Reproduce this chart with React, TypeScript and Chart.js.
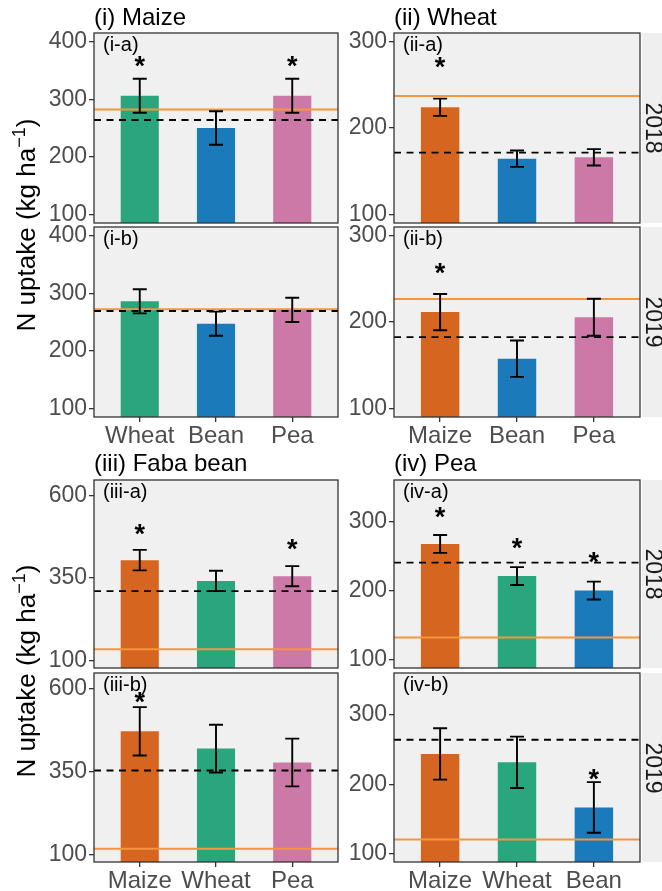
import React, { useEffect, useRef } from "react";
import { Chart, registerables } from "chart.js";

Chart.register(...registerables);

const FONT = '"Liberation Sans", Arial, Helvetica, sans-serif';

// ---------------- data ----------------
// (i) Maize: neighbour crops
const maizeCrops = ["Wheat", "Bean", "Pea"];
const maize2018Mean = [306, 250, 306];
const maize2018Err = [29.5, 29, 29.5];
const maize2018Star: (number | null)[] = [366, null, 366];
const maize2018Ref = 282;
const maize2018Avg = 264;
const maize2019Mean = [286, 247, 271];
const maize2019Err = [21, 21, 21];
const maize2019Star: (number | null)[] = [null, null, null];
const maize2019Ref = 272;
const maize2019Avg = 269;
const maizeTicks = [100, 200, 300, 400];
const maizeRange = [85, 415];

// (ii) Wheat
const wheatCrops = ["Maize", "Bean", "Pea"];
const wheat2018Mean = [224, 164.5, 166];
const wheat2018Err = [10, 9.5, 9.5];
const wheat2018Star: (number | null)[] = [276, null, null];
const wheat2018Ref = 237;
const wheat2018Avg = 171.5;
const wheat2019Mean = [211.5, 157.5, 205.5];
const wheat2019Err = [21, 21, 21.5];
const wheat2019Star: (number | null)[] = [262, null, null];
const wheat2019Ref = 226.5;
const wheat2019Avg = 182.5;
const wheatTicks = [100, 200, 300];
const wheatRange = [90, 310];

// (iii) Faba bean
const fabaCrops = ["Maize", "Wheat", "Pea"];
const faba2018Mean = [404, 341, 355.5];
const faba2018Err = [31, 31, 30.5];
const faba2018Star: (number | null)[] = [497, null, 450];
const faba2018Ref = 134;
const faba2018Avg = 310;
const faba2019Mean = [471, 419, 377];
const faba2019Err = [73, 72, 72];
const faba2019Star: (number | null)[] = [573, null, null];
const faba2019Ref = 117;
const faba2019Avg = 353;
const fabaTicks = [100, 350, 600];
const fabaRange = [77, 647];

// (iv) Pea
const peaCrops = ["Maize", "Wheat", "Bean"];
const pea2018Mean = [268, 221.5, 200.5];
const pea2018Err = [13, 13, 13];
const pea2018Star: (number | null)[] = [314, 268, 248];
const pea2018Ref = 132.5;
const pea2018Avg = 241;
const pea2019Mean = [244, 232, 167];
const pea2019Err = [37, 37, 36.5];
const pea2019Star: (number | null)[] = [null, null, 214];
const pea2019Ref = 121;
const pea2019Avg = 264.5;
const peaTicks = [100, 200, 300];
const peaRange = [88.5, 360.5];

const groupTitles = ["(i) Maize", "(ii) Wheat", "(iii) Faba bean", "(iv) Pea"];
const yearLabels = ["2018", "2019"];

const CROP_COLORS: Record<string, string> = {
  Maize: "#D6661F",
  Wheat: "#2AA67F",
  Bean: "#1B7AB9",
  Pea: "#CC79A7",
};
const REF_COLOR = "#F5953F";

// ---------------- layout ----------------
const COLS = [
  { left: 94, right: 338 },
  { left: 394, right: 640 },
];
const ROWS = [
  { top: 33, bottom: 223 },
  { top: 227, bottom: 417 },
  { top: 480, bottom: 668 },
  { top: 673, bottom: 862 },
];
const AXIS_W = 60;
const PAD_L = 2;
const PAD_R = 4;
const PAD_T = 16;
const PAD_B = 16;
const XAXIS_H = 34;

type PanelSpec = {
  crops: string[];
  mean: number[];
  err: number[];
  stars: (number | null)[];
  refLine: number;
  avgLine: number;
  ticks: number[];
  range: number[];
  tag: string;
  col: number;
  row: number;
  showX: boolean;
};

const panels: PanelSpec[] = [
  { crops: maizeCrops, mean: maize2018Mean, err: maize2018Err, stars: maize2018Star, refLine: maize2018Ref, avgLine: maize2018Avg, ticks: maizeTicks, range: maizeRange, tag: "(i-a)", col: 0, row: 0, showX: false },
  { crops: maizeCrops, mean: maize2019Mean, err: maize2019Err, stars: maize2019Star, refLine: maize2019Ref, avgLine: maize2019Avg, ticks: maizeTicks, range: maizeRange, tag: "(i-b)", col: 0, row: 1, showX: true },
  { crops: wheatCrops, mean: wheat2018Mean, err: wheat2018Err, stars: wheat2018Star, refLine: wheat2018Ref, avgLine: wheat2018Avg, ticks: wheatTicks, range: wheatRange, tag: "(ii-a)", col: 1, row: 0, showX: false },
  { crops: wheatCrops, mean: wheat2019Mean, err: wheat2019Err, stars: wheat2019Star, refLine: wheat2019Ref, avgLine: wheat2019Avg, ticks: wheatTicks, range: wheatRange, tag: "(ii-b)", col: 1, row: 1, showX: true },
  { crops: fabaCrops, mean: faba2018Mean, err: faba2018Err, stars: faba2018Star, refLine: faba2018Ref, avgLine: faba2018Avg, ticks: fabaTicks, range: fabaRange, tag: "(iii-a)", col: 0, row: 2, showX: false },
  { crops: fabaCrops, mean: faba2019Mean, err: faba2019Err, stars: faba2019Star, refLine: faba2019Ref, avgLine: faba2019Avg, ticks: fabaTicks, range: fabaRange, tag: "(iii-b)", col: 0, row: 3, showX: true },
  { crops: peaCrops, mean: pea2018Mean, err: pea2018Err, stars: pea2018Star, refLine: pea2018Ref, avgLine: pea2018Avg, ticks: peaTicks, range: peaRange, tag: "(iv-a)", col: 1, row: 2, showX: false },
  { crops: peaCrops, mean: pea2019Mean, err: pea2019Err, stars: pea2019Star, refLine: pea2019Ref, avgLine: pea2019Avg, ticks: peaTicks, range: peaRange, tag: "(iv-b)", col: 1, row: 3, showX: true },
];

function PanelChart({ p }: { p: PanelSpec }) {
  const ref = useRef<HTMLCanvasElement | null>(null);
  const col = COLS[p.col];
  const row = ROWS[p.row];
  const plotW = col.right - col.left;
  const plotH = row.bottom - row.top;
  const cw = PAD_L + AXIS_W + plotW + PAD_R;
  const ch = PAD_T + plotH + (p.showX ? XAXIS_H : 0) + PAD_B;
  const left = col.left - AXIS_W - PAD_L;
  const top = row.top - PAD_T;

  useEffect(() => {
    const canvas = ref.current;
    if (!canvas) return;
    const decor = {
      id: "decor",
      beforeDraw(chart: any) {
        const { ctx, chartArea: a } = chart;
        ctx.save();
        ctx.fillStyle = "#F0F0F0";
        ctx.fillRect(a.left, a.top, a.right - a.left, a.bottom - a.top);
        ctx.restore();
      },
      afterDatasetsDraw(chart: any) {
        const { ctx, chartArea: a } = chart;
        const xs = chart.scales.x;
        const ys = chart.scales.y;
        ctx.save();
        ctx.beginPath();
        ctx.rect(a.left, a.top, a.right - a.left, a.bottom - a.top);
        ctx.clip();
        // reference (orange) line
        const yr = ys.getPixelForValue(p.refLine);
        ctx.strokeStyle = REF_COLOR;
        ctx.lineWidth = 2;
        ctx.beginPath();
        ctx.moveTo(a.left, yr);
        ctx.lineTo(a.right, yr);
        ctx.stroke();
        // dashed mean line
        const yd = ys.getPixelForValue(p.avgLine);
        ctx.strokeStyle = "#000";
        ctx.lineWidth = 1.9;
        ctx.setLineDash([7, 5.5]);
        ctx.beginPath();
        ctx.moveTo(a.left, yd);
        ctx.lineTo(a.right, yd);
        ctx.stroke();
        ctx.setLineDash([]);
        // error bars
        ctx.lineWidth = 1.9;
        ctx.strokeStyle = "#000";
        p.mean.forEach((m, i) => {
          const x = xs.getPixelForValue(i + 1);
          const y1 = ys.getPixelForValue(m + p.err[i]);
          const y2 = ys.getPixelForValue(m - p.err[i]);
          ctx.beginPath();
          ctx.moveTo(x, y1);
          ctx.lineTo(x, y2);
          ctx.moveTo(x - 7, y1);
          ctx.lineTo(x + 7, y1);
          ctx.moveTo(x - 7, y2);
          ctx.lineTo(x + 7, y2);
          ctx.stroke();
        });
        // stars
        ctx.fillStyle = "#000";
        ctx.font = `bold 27px ${FONT}`;
        ctx.textAlign = "center";
        ctx.textBaseline = "alphabetic";
        const mt = ctx.measureText("*");
        const off = (mt.actualBoundingBoxAscent - mt.actualBoundingBoxDescent) / 2;
        p.stars.forEach((s, i) => {
          if (s == null) return;
          ctx.fillText("*", xs.getPixelForValue(i + 1), ys.getPixelForValue(s) + off);
        });
        ctx.restore();
        // tag
        ctx.save();
        ctx.fillStyle = "#000";
        ctx.font = `20px ${FONT}`;
        ctx.textAlign = "left";
        ctx.textBaseline = "middle";
        ctx.fillText(p.tag, a.left + 9, a.top + 12);
        // border
        ctx.strokeStyle = "#333";
        ctx.lineWidth = 1.3;
        ctx.strokeRect(a.left, a.top, a.right - a.left, a.bottom - a.top);
        ctx.restore();
      },
    };
    const gridOpts = {
      display: true,
      drawOnChartArea: false,
      drawTicks: true,
      tickLength: 5,
      color: "#333",
      lineWidth: 1.3,
      offset: false,
    };
    const chart = new Chart(canvas, {
      type: "bar",
      data: {
        datasets: [
          {
            data: p.mean.map((v, i) => ({ x: i + 1, y: v })) as any,
            backgroundColor: p.crops.map((c) => CROP_COLORS[c]),
            borderWidth: 0,
            barPercentage: 0.5,
            categoryPercentage: 1,
          },
        ],
      },
      options: {
        responsive: false,
        animation: false,
        devicePixelRatio: 1,
        layout: { padding: { left: PAD_L, right: PAD_R, top: PAD_T, bottom: PAD_B } },
        plugins: { legend: { display: false }, tooltip: { enabled: false } },
        scales: {
          x: {
            type: "linear",
            min: 0.4,
            max: 3.6,
            offset: false,
            display: p.showX,
            afterBuildTicks: (s: any) => {
              s.ticks = p.crops.map((_, i) => ({ value: i + 1 }));
            },
            afterFit: (s: any) => {
              s.height = p.showX ? XAXIS_H : 0;
            },
            grid: gridOpts,
            border: { display: false },
            ticks: {
              autoSkip: false,
              maxRotation: 0,
              padding: 0,
              color: "#4D4D4D",
              font: { family: FONT, size: 24 },
              callback: (v: any) => p.crops[Math.round(Number(v)) - 1] ?? "",
            },
          },
          y: {
            type: "linear",
            min: p.range[0],
            max: p.range[1],
            afterBuildTicks: (s: any) => {
              s.ticks = p.ticks.map((v) => ({ value: v }));
            },
            afterFit: (s: any) => {
              s.width = AXIS_W;
            },
            grid: gridOpts,
            border: { display: false },
            ticks: {
              padding: 2,
              color: "#4D4D4D",
              font: { family: FONT, size: 23 },
              callback: (v: any) => String(v),
            },
          },
        } as any,
      },
      plugins: [decor],
    });
    return () => chart.destroy();
  }, []);

  return (
    <canvas
      ref={ref}
      width={cw}
      height={ch}
      style={{ position: "absolute", left, top, width: cw, height: ch }}
    />
  );
}

export default function App() {
  const titlePos = [
    { left: COLS[0].left, cy: 17 },
    { left: COLS[1].left, cy: 17 },
    { left: COLS[0].left, cy: 463 },
    { left: COLS[1].left, cy: 463 },
  ];
  const stripX = 642;
  return (
    <div
      style={{
        position: "absolute",
        left: 0,
        top: 0,
        width: 662,
        height: 891,
        overflow: "hidden",
        background: "#fff",
        fontFamily: FONT,
      }}
    >
      {ROWS.map((r, i) => (
        <div
          key={"strip" + i}
          style={{
            position: "absolute",
            left: stripX,
            top: r.top,
            width: 662 - stripX,
            height: r.bottom - r.top,
            background: "#EFEFEF",
          }}
        />
      ))}
      {panels.map((p, i) => (
        <PanelChart key={i} p={p} />
      ))}
      {groupTitles.map((t, i) => (
        <div
          key={"t" + i}
          style={{
            position: "absolute",
            left: titlePos[i].left,
            top: titlePos[i].cy - 12,
            fontSize: 24,
            lineHeight: "24px",
            whiteSpace: "nowrap",
            color: "#000",
          }}
        >
          {t}
        </div>
      ))}
      {ROWS.map((r, i) => (
        <div
          key={"yl" + i}
          style={{
            position: "absolute",
            left: 653,
            top: (r.top + r.bottom) / 2,
            transform: "translate(-50%, -50%) rotate(90deg)",
            fontSize: 23,
            lineHeight: "23px",
            whiteSpace: "nowrap",
            color: "#1A1A1A",
          }}
        >
          {yearLabels[i % 2]}
        </div>
      ))}
      {[0, 2].map((ri) => (
        <div
          key={"ytitle" + ri}
          style={{
            position: "absolute",
            left: 26,
            top: (ROWS[ri].top + ROWS[ri + 1].bottom) / 2,
            transform: "translate(-50%, -50%) rotate(-90deg)",
            fontSize: 26,
            lineHeight: "30px",
            whiteSpace: "nowrap",
            color: "#000",
          }}
        >
          N uptake (kg ha<sup style={{ fontSize: 18, lineHeight: 0 }}>−1</sup>)
        </div>
      ))}
    </div>
  );
}
